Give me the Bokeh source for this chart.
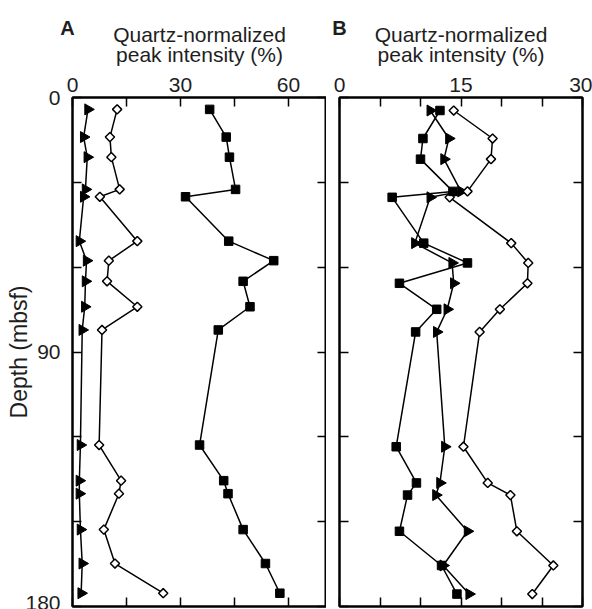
import math
from bokeh.plotting import figure
from bokeh.models import Range1d, LinearAxis, FixedTicker, Label
from bokeh.layouts import row, column
from bokeh.embed import file_html
from bokeh.resources import INLINE

# ---------------- data ----------------
depth_A = [4.2, 14.0, 21.1, 32.5, 35.1, 50.8, 57.7, 65.0, 74.0, 82.2, 122.9, 135.5, 140.1, 152.8, 164.8, 175.3]
triangle_A = [4.3, 3.1, 4.1, 3.6, 3.1, 1.9, 3.9, 3.6, 3.4, 2.7, 2.2, 1.9, 1.9, 2.2, 2.7, 2.4]
diamond_A = [12.4, 10.4, 10.8, 13.1, 7.6, 18.0, 10.1, 9.6, 18.0, 8.2, 7.4, 13.5, 12.9, 8.7, 11.8, 25.2]
square_A = [38.1, 42.7, 43.6, 45.3, 31.4, 43.4, 55.9, 47.4, 49.3, 40.5, 35.3, 42.0, 43.2, 47.4, 53.6, 57.6]

depth_B = [4.6, 14.5, 21.8, 33.2, 35.3, 51.5, 58.5, 65.7, 74.9, 82.9, 123.5, 136.3, 140.6, 153.4, 165.5, 175.6]
triangle_B = [11.2, 13.5, 12.9, 15.0, 11.2, 9.3, 13.9, 14.1, 13.3, 12.0, 13.0, 12.4, 11.9, 15.8, 12.8, 16.0]
diamond_B = [14.1, 18.9, 18.7, 15.8, 13.6, 21.2, 23.3, 23.2, 19.8, 17.3, 15.3, 18.3, 21.1, 21.9, 26.4, 23.8]
square_B = [12.4, 10.3, 10.0, 14.0, 6.5, 10.4, 15.8, 7.4, 12.0, 9.4, 7.0, 9.5, 8.4, 7.4, 12.6, 14.5]

x_ticks_A = [0, 30, 60]
x_minor_A = [15, 45]
x_ticks_B = [0, 15, 30]
x_minor_B = [5, 10, 20, 25]
y_ticks = [0, 90, 180]
y_minor = [30, 60, 120, 150]

panel_letters = ["A", "B"]
title_lines = ["Quartz-normalized", "peak intensity (%)"]

FONT = "Liberation Sans"
TXT = "#1e1e1e"
FRAME_H = 509
STRIP_H = 66
TOP_BORDER = 31


def style_axis(ax, labels=True):
    ax.axis_line_color = "black"
    ax.axis_line_width = 2
    ax.major_tick_in = 9
    ax.major_tick_out = 0
    ax.minor_tick_in = 9
    ax.minor_tick_out = 0
    ax.major_tick_line_color = "black"
    ax.minor_tick_line_color = "black"
    ax.major_tick_line_width = 1.5
    ax.minor_tick_line_width = 1.5
    ax.major_label_text_font = FONT
    ax.major_label_text_color = TXT
    if labels:
        ax.major_label_text_font_size = "21px"
    else:
        ax.major_label_text_font_size = "0px"
        ax.major_label_standoff = 0


def panel(xmax, xt, xm, depth, tri, dia, sq, frame_w, bl, br, ylabel):
    p = figure(frame_width=frame_w, frame_height=FRAME_H,
               x_range=Range1d(0, xmax), y_range=Range1d(180, 0),
               x_axis_location="above", toolbar_location=None,
               output_backend="svg",
               min_border_left=bl, min_border_right=br,
               min_border_top=TOP_BORDER, min_border_bottom=3)
    p.xgrid.visible = False
    p.ygrid.visible = False
    p.outline_line_color = "black"
    p.outline_line_width = 2
    p.background_fill_color = "white"
    p.border_fill_color = "white"

    top = p.xaxis[0]
    top.ticker = FixedTicker(ticks=xt, minor_ticks=xm)
    style_axis(top)
    top.major_label_standoff = 6

    left = p.yaxis[0]
    left.ticker = FixedTicker(ticks=y_ticks, minor_ticks=y_minor)
    style_axis(left, labels=ylabel)
    if ylabel:
        left.major_label_standoff = 12
        left.axis_label = "Depth (mbsf)"
        left.axis_label_text_font = FONT
        left.axis_label_text_font_size = "23px"
        left.axis_label_text_font_style = "normal"
        left.axis_label_text_color = TXT
        left.axis_label_standoff = -10

    bottom = LinearAxis(ticker=FixedTicker(ticks=xt, minor_ticks=xm))
    style_axis(bottom, labels=False)
    p.add_layout(bottom, "below")
    right = LinearAxis(ticker=FixedTicker(ticks=y_ticks, minor_ticks=y_minor))
    style_axis(right, labels=False)
    p.add_layout(right, "right")

    for xs in (tri, dia, sq):
        p.line(xs, depth, line_color="black", line_width=1.5)
    p.scatter(tri, depth, marker="triangle", size=11, angle=-math.pi / 2,
              fill_color="black", line_color="black")
    p.scatter(dia, depth, marker="square", size=6.5, angle=math.pi / 4,
              fill_color="white", line_color="black", line_width=1.5)
    p.scatter(sq, depth, marker="square", size=8.5,
              fill_color="black", line_color="black")
    return p


pA = panel(70.56, x_ticks_A, x_minor_A, depth_A, triangle_A, diamond_A, square_A,
           254, 72, 0, True)
pB = panel(30, x_ticks_B, x_minor_B, depth_B, triangle_B, diamond_B, square_B,
           243, 13, 10, False)

# header strip holding the panel letters and the two-line axis titles
W = 592
strip = figure(width=W, height=STRIP_H, x_range=Range1d(0, W), y_range=Range1d(STRIP_H, 0),
               x_axis_type=None, y_axis_type=None, toolbar_location=None,
               output_backend="svg", min_border=0)
strip.xgrid.visible = False
strip.ygrid.visible = False
strip.outline_line_color = None
strip.background_fill_color = "white"
strip.border_fill_color = "white"

panel_centers = [72 + 254 / 2, 339 + 243 / 2]
letter_x = [67, 339]
for letter, cx, lx in zip(panel_letters, panel_centers, letter_x):
    strip.add_layout(Label(x=lx, y=27, text=letter, text_font=FONT, text_font_size="20px",
                           text_font_style="bold", text_color=TXT,
                           text_align="center", text_baseline="middle"))
    for txt, mid in zip(title_lines, (34, 54)):
        strip.add_layout(Label(x=cx, y=mid, text=txt, text_font=FONT,
                               text_font_size="21px", text_color=TXT,
                               text_align="center", text_baseline="middle"))

layout = column(strip, row(pA, pB))
open("out.html", "w").write(file_html(layout, INLINE))
